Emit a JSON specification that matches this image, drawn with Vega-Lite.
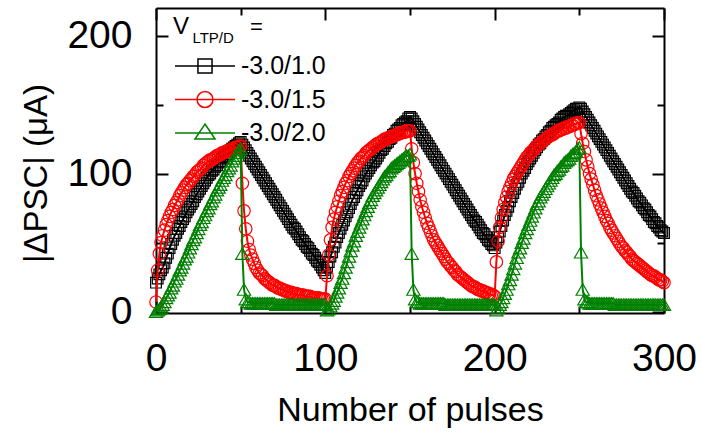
{
"$schema": "https://vega.github.io/schema/vega-lite/v6.json",
"width": 508, "height": 305,
"autosize": {"type": "none"},
"padding": {"left": 156, "top": 8, "right": 38, "bottom": 119},
"background": "white",
"config": {
 "view": {"stroke": null},
 "axis": {"grid": false, "labelFont": "Liberation Sans", "titleFont": "Liberation Sans", "domainColor": "black", "tickColor": "black", "labelColor": "black", "titleColor": "black", "domainWidth": 2, "tickWidth": 2, "labelFlush": false, "labelOverlap": false},
 "text": {"font": "Liberation Sans"}
},
"data": {"values": [
{"n":0,"a":21,"b":7,"c":0},{"n":1,"a":24,"b":30,"c":1},{"n":2,"a":27,"b":42,"c":2},{"n":3,"a":30,"b":50,"c":3},{"n":4,"a":32,"b":55,"c":5},{"n":5,"a":35,"b":59,"c":7},{"n":6,"a":39,"b":63,"c":10},{"n":7,"a":42,"b":66,"c":12},{"n":8,"a":46,"b":69,"c":14},{"n":9,"a":49,"b":72,"c":17},
{"n":10,"a":52,"b":74,"c":19},{"n":11,"a":55,"b":77,"c":22},{"n":12,"a":57,"b":79,"c":24},{"n":13,"a":60,"b":81,"c":27},{"n":14,"a":62,"b":84,"c":30},{"n":15,"a":65,"b":86,"c":32},{"n":16,"a":67,"b":88,"c":35},{"n":17,"a":69,"b":90,"c":38},{"n":18,"a":72,"b":92,"c":40},{"n":19,"a":74,"b":93,"c":43},
{"n":20,"a":76,"b":95,"c":46},{"n":21,"a":78,"b":96,"c":49},{"n":22,"a":80,"b":98,"c":52},{"n":23,"a":83,"b":99,"c":54},{"n":24,"a":85,"b":101,"c":57},{"n":25,"a":87,"b":102,"c":60},{"n":26,"a":89,"b":103,"c":63},{"n":27,"a":91,"b":104,"c":65},{"n":28,"a":93,"b":106,"c":68},{"n":29,"a":95,"b":107,"c":70},
{"n":30,"a":97,"b":108,"c":73},{"n":31,"a":99,"b":109,"c":75},{"n":32,"a":100,"b":110,"c":78},{"n":33,"a":102,"b":110,"c":80},{"n":34,"a":103,"b":111,"c":83},{"n":35,"a":105,"b":112,"c":85},{"n":36,"a":106,"b":113,"c":88},{"n":37,"a":108,"b":113,"c":90},{"n":38,"a":109,"b":114,"c":92},{"n":39,"a":111,"b":115,"c":95},
{"n":40,"a":112,"b":115,"c":97},{"n":41,"a":113,"b":116,"c":99},{"n":42,"a":114,"b":116,"c":102},{"n":43,"a":116,"b":117,"c":104},{"n":44,"a":117,"b":117,"c":106},{"n":45,"a":118,"b":118,"c":109},{"n":46,"a":119,"b":118,"c":111},{"n":47,"a":120,"b":119,"c":113},{"n":48,"a":121,"b":119,"c":115},{"n":49,"a":122,"b":120,"c":117},
{"n":50,"a":123,"b":120,"c":118},{"n":51,"a":121,"b":93,"c":42},{"n":52,"a":119,"b":73,"c":16},{"n":53,"a":117,"b":60,"c":9},{"n":54,"a":115,"b":51,"c":7},{"n":55,"a":113,"b":45,"c":7},{"n":56,"a":111,"b":41,"c":6},{"n":57,"a":109,"b":38,"c":6},{"n":58,"a":107,"b":35,"c":6},{"n":59,"a":105,"b":32,"c":6},
{"n":60,"a":103,"b":30,"c":6},{"n":61,"a":101,"b":28,"c":6},{"n":62,"a":99,"b":27,"c":6},{"n":63,"a":97,"b":26,"c":6},{"n":64,"a":95,"b":24,"c":6},{"n":65,"a":93,"b":23,"c":6},{"n":66,"a":91,"b":22,"c":6},{"n":67,"a":89,"b":21,"c":6},{"n":68,"a":87,"b":20,"c":6},{"n":69,"a":85,"b":19,"c":6},
{"n":70,"a":83,"b":19,"c":6},{"n":71,"a":81,"b":18,"c":5},{"n":72,"a":79,"b":17,"c":5},{"n":73,"a":77,"b":17,"c":5},{"n":74,"a":75,"b":16,"c":5},{"n":75,"a":73,"b":16,"c":5},{"n":76,"a":71,"b":15,"c":5},{"n":77,"a":69,"b":15,"c":5},{"n":78,"a":67,"b":14,"c":5},{"n":79,"a":65,"b":14,"c":5},
{"n":80,"a":63,"b":14,"c":5},{"n":81,"a":61,"b":13,"c":5},{"n":82,"a":60,"b":13,"c":5},{"n":83,"a":58,"b":13,"c":5},{"n":84,"a":56,"b":12,"c":5},{"n":85,"a":54,"b":12,"c":5},{"n":86,"a":52,"b":12,"c":5},{"n":87,"a":51,"b":12,"c":5},{"n":88,"a":49,"b":11,"c":5},{"n":89,"a":47,"b":11,"c":5},
{"n":90,"a":46,"b":11,"c":5},{"n":91,"a":44,"b":11,"c":5},{"n":92,"a":42,"b":10,"c":5},{"n":93,"a":41,"b":10,"c":5},{"n":94,"a":39,"b":10,"c":5},{"n":95,"a":37,"b":10,"c":5},{"n":96,"a":36,"b":10,"c":5},{"n":97,"a":34,"b":9,"c":5},{"n":98,"a":32,"b":9,"c":5},{"n":99,"a":30,"b":9,"c":5},
{"n":100,"a":28,"b":9,"c":5},{"n":101,"a":32,"b":26,"c":1},{"n":102,"a":36,"b":41,"c":2},{"n":103,"a":40,"b":52,"c":4},{"n":104,"a":43,"b":61,"c":6},{"n":105,"a":47,"b":67,"c":8},{"n":106,"a":50,"b":72,"c":11},{"n":107,"a":54,"b":76,"c":14},{"n":108,"a":57,"b":80,"c":17},{"n":109,"a":60,"b":84,"c":21},
{"n":110,"a":63,"b":87,"c":24},{"n":111,"a":66,"b":90,"c":28},{"n":112,"a":69,"b":93,"c":32},{"n":113,"a":72,"b":95,"c":36},{"n":114,"a":75,"b":98,"c":40},{"n":115,"a":78,"b":100,"c":44},{"n":116,"a":81,"b":102,"c":48},{"n":117,"a":83,"b":104,"c":51},{"n":118,"a":86,"b":106,"c":55},{"n":119,"a":88,"b":108,"c":58},
{"n":120,"a":91,"b":109,"c":61},{"n":121,"a":93,"b":111,"c":64},{"n":122,"a":95,"b":112,"c":67},{"n":123,"a":98,"b":113,"c":70},{"n":124,"a":100,"b":115,"c":73},{"n":125,"a":102,"b":116,"c":76},{"n":126,"a":104,"b":117,"c":79},{"n":127,"a":106,"b":118,"c":81},{"n":128,"a":108,"b":119,"c":84},{"n":129,"a":109,"b":120,"c":86},
{"n":130,"a":111,"b":121,"c":88},{"n":131,"a":113,"b":122,"c":90},{"n":132,"a":115,"b":122,"c":92},{"n":133,"a":117,"b":123,"c":94},{"n":134,"a":118,"b":124,"c":96},{"n":135,"a":120,"b":125,"c":98},{"n":136,"a":122,"b":125,"c":99},{"n":137,"a":123,"b":126,"c":101},{"n":138,"a":125,"b":126,"c":102},{"n":139,"a":126,"b":127,"c":104},
{"n":140,"a":128,"b":127,"c":105},{"n":141,"a":129,"b":128,"c":106},{"n":142,"a":131,"b":128,"c":107},{"n":143,"a":132,"b":129,"c":108},{"n":144,"a":133,"b":129,"c":109},{"n":145,"a":135,"b":130,"c":110},{"n":146,"a":136,"b":130,"c":111},{"n":147,"a":137,"b":130,"c":112},{"n":148,"a":138,"b":131,"c":113},{"n":149,"a":140,"b":131,"c":113},
{"n":150,"a":141,"b":131,"c":114},{"n":151,"a":140,"b":118,"c":42},{"n":152,"a":138,"b":108,"c":16},{"n":153,"a":136,"b":100,"c":9},{"n":154,"a":134,"b":93,"c":7},{"n":155,"a":132,"b":87,"c":7},{"n":156,"a":130,"b":81,"c":6},{"n":157,"a":128,"b":76,"c":6},{"n":158,"a":126,"b":72,"c":6},{"n":159,"a":124,"b":68,"c":6},
{"n":160,"a":122,"b":64,"c":6},{"n":161,"a":120,"b":61,"c":6},{"n":162,"a":118,"b":58,"c":6},{"n":163,"a":116,"b":55,"c":6},{"n":164,"a":114,"b":52,"c":6},{"n":165,"a":112,"b":50,"c":6},{"n":166,"a":110,"b":48,"c":6},{"n":167,"a":108,"b":46,"c":6},{"n":168,"a":106,"b":44,"c":6},{"n":169,"a":104,"b":42,"c":6},
{"n":170,"a":102,"b":40,"c":6},{"n":171,"a":100,"b":38,"c":5},{"n":172,"a":98,"b":36,"c":5},{"n":173,"a":96,"b":35,"c":5},{"n":174,"a":94,"b":33,"c":5},{"n":175,"a":92,"b":32,"c":5},{"n":176,"a":90,"b":30,"c":5},{"n":177,"a":88,"b":29,"c":5},{"n":178,"a":86,"b":27,"c":5},{"n":179,"a":84,"b":26,"c":5},
{"n":180,"a":82,"b":25,"c":5},{"n":181,"a":80,"b":24,"c":5},{"n":182,"a":78,"b":23,"c":5},{"n":183,"a":76,"b":22,"c":5},{"n":184,"a":74,"b":21,"c":5},{"n":185,"a":72,"b":20,"c":5},{"n":186,"a":70,"b":19,"c":5},{"n":187,"a":68,"b":18,"c":5},{"n":188,"a":66,"b":18,"c":5},{"n":189,"a":65,"b":17,"c":5},
{"n":190,"a":63,"b":16,"c":5},{"n":191,"a":61,"b":16,"c":5},{"n":192,"a":59,"b":15,"c":5},{"n":193,"a":57,"b":15,"c":5},{"n":194,"a":56,"b":14,"c":5},{"n":195,"a":54,"b":14,"c":5},{"n":196,"a":52,"b":13,"c":5},{"n":197,"a":51,"b":13,"c":5},{"n":198,"a":49,"b":12,"c":5},{"n":199,"a":48,"b":12,"c":5},
{"n":200,"a":46,"b":11,"c":5},{"n":201,"a":50,"b":36,"c":1},{"n":202,"a":54,"b":51,"c":3},{"n":203,"a":58,"b":61,"c":5},{"n":204,"a":62,"b":68,"c":7},{"n":205,"a":66,"b":74,"c":10},{"n":206,"a":70,"b":79,"c":13},{"n":207,"a":73,"b":83,"c":16},{"n":208,"a":76,"b":87,"c":20},{"n":209,"a":80,"b":90,"c":23},
{"n":210,"a":83,"b":93,"c":27},{"n":211,"a":86,"b":96,"c":31},{"n":212,"a":89,"b":98,"c":35},{"n":213,"a":92,"b":100,"c":39},{"n":214,"a":94,"b":102,"c":43},{"n":215,"a":97,"b":104,"c":46},{"n":216,"a":100,"b":106,"c":50},{"n":217,"a":102,"b":108,"c":53},{"n":218,"a":104,"b":110,"c":57},{"n":219,"a":107,"b":112,"c":60},
{"n":220,"a":109,"b":113,"c":63},{"n":221,"a":111,"b":115,"c":66},{"n":222,"a":113,"b":116,"c":69},{"n":223,"a":115,"b":117,"c":72},{"n":224,"a":117,"b":119,"c":75},{"n":225,"a":119,"b":120,"c":78},{"n":226,"a":121,"b":121,"c":80},{"n":227,"a":122,"b":122,"c":83},{"n":228,"a":124,"b":123,"c":85},{"n":229,"a":125,"b":124,"c":87},
{"n":230,"a":127,"b":125,"c":89},{"n":231,"a":128,"b":126,"c":91},{"n":232,"a":130,"b":127,"c":93},{"n":233,"a":131,"b":128,"c":95},{"n":234,"a":133,"b":128,"c":97},{"n":235,"a":134,"b":129,"c":99},{"n":236,"a":135,"b":130,"c":100},{"n":237,"a":136,"b":131,"c":102},{"n":238,"a":137,"b":131,"c":103},{"n":239,"a":139,"b":132,"c":105},
{"n":240,"a":140,"b":132,"c":106},{"n":241,"a":141,"b":133,"c":108},{"n":242,"a":142,"b":133,"c":109},{"n":243,"a":142,"b":134,"c":110},{"n":244,"a":143,"b":134,"c":111},{"n":245,"a":144,"b":135,"c":113},{"n":246,"a":145,"b":135,"c":114},{"n":247,"a":146,"b":136,"c":115},{"n":248,"a":147,"b":136,"c":116},{"n":249,"a":147,"b":137,"c":118},
{"n":250,"a":148,"b":137,"c":119},{"n":251,"a":147,"b":129,"c":43},{"n":252,"a":145,"b":122,"c":16},{"n":253,"a":143,"b":116,"c":9},{"n":254,"a":141,"b":110,"c":7},{"n":255,"a":139,"b":105,"c":7},{"n":256,"a":137,"b":100,"c":6},{"n":257,"a":135,"b":96,"c":6},{"n":258,"a":133,"b":92,"c":6},{"n":259,"a":131,"b":88,"c":6},
{"n":260,"a":129,"b":84,"c":6},{"n":261,"a":127,"b":81,"c":6},{"n":262,"a":125,"b":78,"c":6},{"n":263,"a":123,"b":75,"c":6},{"n":264,"a":121,"b":72,"c":6},{"n":265,"a":119,"b":69,"c":6},{"n":266,"a":117,"b":66,"c":6},{"n":267,"a":115,"b":64,"c":6},{"n":268,"a":113,"b":61,"c":6},{"n":269,"a":111,"b":59,"c":6},
{"n":270,"a":109,"b":57,"c":6},{"n":271,"a":107,"b":55,"c":5},{"n":272,"a":105,"b":53,"c":5},{"n":273,"a":103,"b":51,"c":5},{"n":274,"a":101,"b":49,"c":5},{"n":275,"a":99,"b":47,"c":5},{"n":276,"a":97,"b":46,"c":5},{"n":277,"a":95,"b":44,"c":5},{"n":278,"a":93,"b":43,"c":5},{"n":279,"a":91,"b":41,"c":5},
{"n":280,"a":89,"b":40,"c":5},{"n":281,"a":87,"b":38,"c":5},{"n":282,"a":86,"b":37,"c":5},{"n":283,"a":84,"b":36,"c":5},{"n":284,"a":82,"b":35,"c":5},{"n":285,"a":80,"b":34,"c":5},{"n":286,"a":79,"b":33,"c":5},{"n":287,"a":77,"b":32,"c":5},{"n":288,"a":75,"b":31,"c":5},{"n":289,"a":74,"b":30,"c":5},
{"n":290,"a":72,"b":29,"c":5},{"n":291,"a":70,"b":28,"c":5},{"n":292,"a":69,"b":27,"c":5},{"n":293,"a":67,"b":26,"c":5},{"n":294,"a":65,"b":26,"c":5},{"n":295,"a":64,"b":25,"c":5},{"n":296,"a":62,"b":24,"c":5},{"n":297,"a":61,"b":23,"c":5},{"n":298,"a":59,"b":23,"c":5},{"n":299,"a":58,"b":22,"c":5},
{"n":300,"a":57,"b":21,"c":5}
]},
"resolve": {"axis": {"x": "independent", "y": "independent"}},
"layer": [
 {
  "transform": [{"fold": ["a","b","c"], "as": ["s","v"]}, {"filter": "datum.s === 'a'"}],
  "mark": {"type": "line", "strokeWidth": 2},
  "encoding": {
   "x": {"field": "n", "type": "quantitative", "scale": {"domain": [0,300], "nice": false, "zero": false},
     "axis": {"orient": "bottom", "values": [0,100,200,300], "format": "d", "tickSize": -12, "labelFontSize": 39, "labelPadding": 38, "title": "Number of pulses", "titleFontSize": 34, "titleFontWeight": "normal", "titleX": 254, "titleY": 97, "titleAlign": "center", "titleBaseline": "middle"}},
   "y": {"field": "v", "type": "quantitative", "scale": {"domain": [-1,220], "nice": false, "zero": false},
     "axis": {"orient": "left", "values": [0,100,200], "format": "d", "tickSize": -12, "labelFontSize": 39, "labelPadding": 36, "title": "|ΔPSC| (μA)", "titleFontSize": 33, "titleFontWeight": "normal", "titleX": -120, "titleY": 165, "titleAngle": -90, "titleAlign": "center", "titleBaseline": "middle"}},
   "color": {"field": "s", "type": "nominal", "scale": {"domain": ["a","b","c"], "range": ["#000000","#ff0000","#008000"]},
     "legend": {"orient": "none", "legendX": 33, "legendY": 42, "title": null, "padding": 0, "labelFont": "Liberation Sans", "labelFontSize": 25, "labelColor": "black", "labelOffset": 20, "labelLimit": 0, "rowPadding": 4.5, "symbolSize": 900, "symbolStrokeWidth": 1.5, "symbolFillColor": "transparent",
       "labelExpr": "datum.value === 'a' ? '-3.0/1.0' : datum.value === 'b' ? '-3.0/1.5' : '-3.0/2.0'"}}
  }
 },
 {
  "transform": [{"fold": ["a","b","c"], "as": ["s","v"]}, {"filter": "datum.s === 'a'"}],
  "mark": {"type": "point", "shape": "square", "size": 115, "filled": false, "strokeWidth": 1.2, "opacity": 1},
  "encoding": {
   "x": {"field": "n", "type": "quantitative", "axis": {"orient": "bottom", "values": [50,150,250], "tickSize": -7, "labels": false, "domain": false, "title": null}},
   "y": {"field": "v", "type": "quantitative", "axis": {"orient": "left", "values": [50,150], "tickSize": -7, "labels": false, "domain": false, "title": null}},
   "color": {"field": "s", "type": "nominal"}
  }
 },
 {
  "transform": [{"fold": ["a","b","c"], "as": ["s","v"]}, {"filter": "datum.s === 'b'"}],
  "mark": {"type": "line", "strokeWidth": 2},
  "encoding": {
   "x": {"field": "n", "type": "quantitative", "axis": {"orient": "top", "values": [0,100,200,300], "tickSize": -12, "labels": false, "title": null}},
   "y": {"field": "v", "type": "quantitative", "axis": {"orient": "right", "values": [0,100,200], "tickSize": -12, "labels": false, "title": null}},
   "color": {"field": "s", "type": "nominal"}
  }
 },
 {
  "transform": [{"fold": ["a","b","c"], "as": ["s","v"]}, {"filter": "datum.s === 'b'"}],
  "mark": {"type": "point", "shape": "circle", "size": 155, "filled": false, "strokeWidth": 1.2, "opacity": 1},
  "encoding": {
   "x": {"field": "n", "type": "quantitative", "axis": {"orient": "top", "values": [50,150,250], "tickSize": -7, "labels": false, "domain": false, "title": null}},
   "y": {"field": "v", "type": "quantitative", "axis": {"orient": "right", "values": [50,150], "tickSize": -7, "labels": false, "domain": false, "title": null}},
   "color": {"field": "s", "type": "nominal"}
  }
 },
 {
  "transform": [{"fold": ["a","b","c"], "as": ["s","v"]}, {"filter": "datum.s === 'c'"}],
  "mark": {"type": "line", "strokeWidth": 2},
  "encoding": {
   "x": {"field": "n", "type": "quantitative", "axis": null},
   "y": {"field": "v", "type": "quantitative", "axis": null},
   "color": {"field": "s", "type": "nominal"}
  }
 },
 {
  "transform": [{"fold": ["a","b","c"], "as": ["s","v"]}, {"filter": "datum.s === 'c'"}],
  "mark": {"type": "point", "shape": "triangle-up", "size": 175, "filled": false, "strokeWidth": 1.2, "opacity": 1},
  "encoding": {
   "x": {"field": "n", "type": "quantitative", "axis": null},
   "y": {"field": "v", "type": "quantitative", "axis": null},
   "color": {"field": "s", "type": "nominal"}
  }
 },
 {
  "transform": [{"fold": ["a","b","c"], "as": ["s","v"]}, {"filter": "false"}],
  "mark": {"type": "point", "filled": false},
  "encoding": {
   "x": {"field": "n", "type": "quantitative", "axis": null},
   "y": {"field": "v", "type": "quantitative", "axis": null},
   "color": {"field": "s", "type": "nominal"},
   "shape": {"field": "s", "type": "nominal", "scale": {"domain": ["a","b","c"], "range": ["M-2,0H2M-0.47,-0.47H0.47V0.47H-0.47Z", "M-2,0H2M-0.53,0A0.53,0.53,0,1,1,0.53,0A0.53,0.53,0,1,1,-0.53,0Z", "M-2,0H2M0,-0.6L0.67,0.4H-0.67Z"]}}
  }
 },
 {
  "data": {"values": [{}]},
  "mark": {"type": "text", "text": "V", "fontSize": 24, "align": "left", "baseline": "middle", "font": "Liberation Sans", "color": "black"},
  "encoding": {"x": {"datum": 10, "type": "quantitative", "axis": null}, "y": {"datum": 206, "type": "quantitative", "axis": null}}
 },
 {
  "data": {"values": [{}]},
  "mark": {"type": "text", "text": "LTP/D", "fontSize": 15, "align": "left", "baseline": "middle", "font": "Liberation Sans", "color": "black"},
  "encoding": {"x": {"datum": 21.5, "type": "quantitative", "axis": null}, "y": {"datum": 198, "type": "quantitative", "axis": null}}
 },
 {
  "data": {"values": [{}]},
  "mark": {"type": "text", "text": "=", "fontSize": 22, "align": "left", "baseline": "middle", "font": "Liberation Sans", "color": "black"},
  "encoding": {"x": {"datum": 55.5, "type": "quantitative", "axis": null}, "y": {"datum": 206, "type": "quantitative", "axis": null}}
 }
]
}
